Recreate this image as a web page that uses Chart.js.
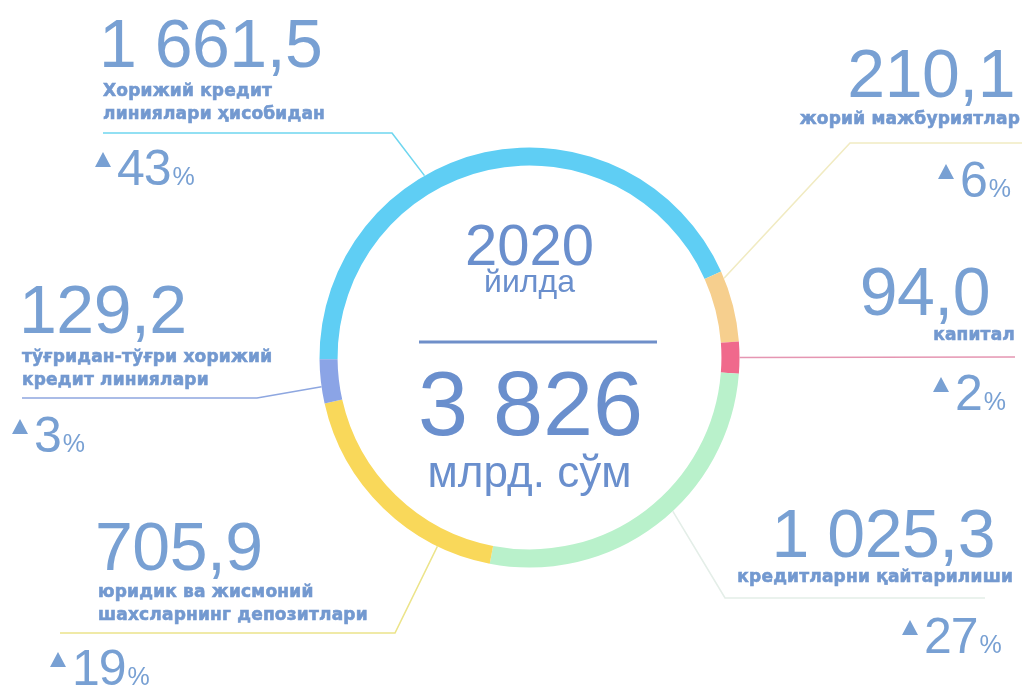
<!DOCTYPE html>
<html lang="uz">
<head>
<meta charset="utf-8">
<title>2020 йилда 3 826 млрд. сўм</title>
<script src="https://cdn.jsdelivr.net/npm/chart.js@4.4.0/dist/chart.umd.min.js"></script>
<style>
  html, body { margin: 0; padding: 0; background: #fff; }
  #wrap { width: 1022px; height: 688px; }
</style>
</head>
<body>
<div id="wrap"><canvas id="ring" width="1022" height="688"></canvas></div>
<script>
// Data
const year = 2020;
const unit = 'млрд. сўм';
const yearWord = 'йилда';
const categories = [
  'Хорижий кредит линиялари ҳисобидан',
  'жорий мажбуриятлар',
  'капитал',
  'кредитларни қайтарилиши',
  'юридик ва жисмоний шахсларнинг депозитлари',
  'тўғридан-тўғри хорижий кредит линиялари'
];
const values = [1661.5, 210.1, 94.0, 1025.3, 705.9, 129.2];
const growth = [43, 6, 2, 27, 19, 3];
const labelLines = [
  ['Хорижий кредит', 'линиялари ҳисобидан'],
  ['жорий мажбуриятлар'],
  ['капитал'],
  ['кредитларни қайтарилиши'],
  ['юридик ва жисмоний', 'шахсларнинг депозитлари'],
  ['тўғридан-тўғри хорижий', 'кредит линиялари']
];

// Styles
const ringColors = ['#5fcef4', '#f6cf8e', '#f0698c', '#b9f1cb', '#f9d85a', '#8ba4e6'];
const leaderColors = ['#6fd6ef', '#f1ebc2', '#e596b2', '#e4eee8', '#ece48a', '#8ea7e0'];
const textColor = '#78a0d3';
const labelColor = '#7399d0';
const centerColor = '#6a8fcd';
const numFont = '"Liberation Sans", Arial, sans-serif';
const labelFont = '"DejaVu Sans", sans-serif';

// Layout of the text blocks round the ring (one per category)
const blocks = [
  { align: 'left',  vx: 99,   vy: 67,  lx: 103,  ly: [96, 119],  path: [[103, 133], [392, 133]], anchorDeg: 330, gx: 95,  gy: 185 },
  { align: 'right', vx: 1015, vy: 97,  lx: 1020, ly: [124],      path: [[1022, 143], [850, 143]], anchorDeg: 38,  gx: 938, gy: 197 },
  { align: 'right', vx: 990,  vy: 315, lx: 1015, ly: [340],      path: [[1015, 357]],             anchorDeg: 90,  gx: 933, gy: 410 },
  { align: 'right', vx: 995,  vy: 557, lx: 1013, ly: [582],      path: [[985, 598], [725, 598]],  anchorDeg: 137, gx: 902, gy: 653 },
  { align: 'left',  vx: 95,   vy: 570, lx: 98,   ly: [597, 620], path: [[60, 633], [395, 633]],   anchorDeg: 206, gx: 50,  gy: 685 },
  { align: 'left',  vx: 19,   vy: 333, lx: 22,   ly: [362, 385], path: [[22, 398], [257, 398]],   anchorDeg: 262, gx: 12,  gy: 452 }
];

function fmt(v, digits) {
  const parts = v.toFixed(digits).split('.');
  const grouped = parts[0].replace(/\B(?=(\d{3})+(?!\d))/g, ' ');
  return parts[1] ? grouped + ',' + parts[1] : grouped;
}

const infographic = {
  id: 'infographic',
  afterDatasetsDraw(chart) {
    const ctx = chart.ctx;
    const meta = chart.getDatasetMeta(0);
    const TAU = 2 * Math.PI;
    ctx.save();
    ctx.lineWidth = 1.6;
    blocks.forEach((b, i) => {
      const arc = meta.data[i];
      const m = 2 * Math.PI / 180;
      const s0 = arc.startAngle + m, e0 = arc.endAngle - m;
      let a = (b.anchorDeg - 90) * Math.PI / 180;
      a = s0 + (((a - s0) % TAU) + TAU) % TAU;
      if (a > e0) a = (a - e0 < s0 + TAU - a) ? e0 : s0;
      const ax = arc.x + Math.cos(a) * arc.outerRadius;
      const ay = arc.y + Math.sin(a) * arc.outerRadius;
      ctx.strokeStyle = leaderColors[i];
      ctx.beginPath();
      ctx.moveTo(b.path[0][0], b.path[0][1]);
      b.path.slice(1).forEach(p => ctx.lineTo(p[0], p[1]));
      ctx.lineTo(ax, ay);
      ctx.stroke();
    });
    ctx.restore();
  },
  afterDraw(chart) {
    const ctx = chart.ctx;
    ctx.save();
    ctx.textBaseline = 'alphabetic';
    blocks.forEach((b, i) => {
      // big value
      ctx.fillStyle = textColor;
      ctx.textAlign = b.align;
      ctx.font = '68px ' + numFont;
      ctx.letterSpacing = '-0.5px';
      ctx.fillText(fmt(values[i], 1), b.vx, b.vy);
      // label
      ctx.letterSpacing = '0.2px';
      ctx.font = 'bold 17px ' + labelFont;
      ctx.fillStyle = labelColor;
      ctx.strokeStyle = labelColor;
      ctx.lineWidth = 0.6;
      labelLines[i].forEach((line, k) => {
        ctx.fillText(line, b.lx, b.ly[k]);
        ctx.strokeText(line, b.lx, b.ly[k]);
      });
      // growth
      ctx.fillStyle = textColor;
      ctx.textAlign = 'left';
      const tb = b.gy - 18;
      ctx.beginPath();
      ctx.moveTo(b.gx, tb);
      ctx.lineTo(b.gx + 16, tb);
      ctx.lineTo(b.gx + 8, tb - 15);
      ctx.closePath();
      ctx.fill();
      ctx.font = '50px ' + numFont;
      ctx.letterSpacing = '-1px';
      const nx = b.gx + 22;
      const s = String(growth[i]);
      ctx.fillText(s, nx, b.gy);
      const w = ctx.measureText(s).width;
      ctx.letterSpacing = '0px';
      ctx.font = '25px ' + numFont;
      ctx.fillText('%', nx + w + 2, b.gy);
    });

    // centre
    const total = values.reduce((s, v) => s + v, 0);
    const cx = (chart.chartArea.left + chart.chartArea.right) / 2;
    ctx.fillStyle = centerColor;
    ctx.textAlign = 'center';
    ctx.font = '58px ' + numFont;
    ctx.fillText(String(year), cx, 265);
    ctx.font = '500 32px ' + numFont;
    ctx.fillText(yearWord, cx, 292);
    ctx.strokeStyle = '#6f8fc9';
    ctx.lineWidth = 3;
    ctx.beginPath();
    ctx.moveTo(419, 342);
    ctx.lineTo(657, 342);
    ctx.stroke();
    ctx.font = '90px ' + numFont;
    ctx.fillText(fmt(total, 0), cx + 1, 435);
    ctx.font = '44px ' + numFont;
    ctx.fillText(unit, cx, 487);
    ctx.restore();
  }
};

new Chart(document.getElementById('ring'), {
  type: 'doughnut',
  data: {
    labels: categories,
    datasets: [{
      data: values,
      backgroundColor: ringColors,
      borderWidth: 0,
      hoverOffset: 0
    }]
  },
  options: {
    responsive: false,
    animation: false,
    events: [],
    rotation: 269.5,
    cutout: '91.4%',
    layout: { padding: { left: 319.5, right: 282.5, top: 147.5, bottom: 120.5 } },
    plugins: { legend: { display: false }, tooltip: { enabled: false } }
  },
  plugins: [infographic]
});
</script>
</body>
</html>
